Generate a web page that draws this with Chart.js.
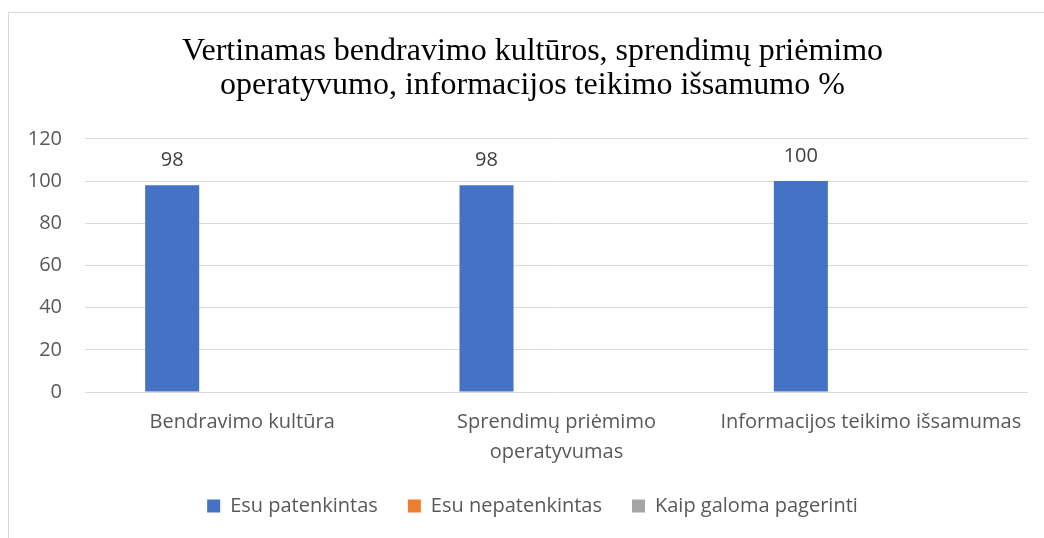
<!DOCTYPE html>
<html>
<head>
<meta charset="utf-8">
<script src="https://cdn.jsdelivr.net/npm/chart.js@4/dist/chart.umd.min.js"></script>
<style>
  html, body { margin: 0; padding: 0; background: #fff; overflow: hidden; }
  .frame {
    position: absolute; left: 8px; top: 12px;
    width: 1100px; height: 600px;
    border: 1px solid #d9d9d9;
  }
  .chart-container { position: absolute; left: 0; top: 0; width: 1047px; height: 525px; }
</style>
</head>
<body>
<div class="frame">
  <div class="chart-container"><canvas id="satisfactionChart"></canvas></div>
</div>
<script>
const categories = [
  'Bendravimo kultūra',
  ['Sprendimų priėmimo', 'operatyvumas'],
  'Informacijos teikimo išsamumas'
];
const seriesNames = ['Esu patenkintas', 'Esu nepatenkintas', 'Kaip galoma pagerinti'];
const satisfied = [98, 98, 100];
const notSatisfied = [null, null, null];
const improve = [null, null, null];
const yTicks = [0, 20, 40, 60, 80, 100, 120];

const titleLines = [
  'Vertinamas bendravimo kultūros, sprendimų priėmimo',
  'operatyvumo, informacijos teikimo išsamumo %'
];

const colors = ['#4472C4', '#ED7D31', '#A5A5A5'];
const textColor = '#595959';
const uiFont = '"Open Sans", Lato, sans-serif';

// draw value labels above bars of the first series
const valueLabels = {
  id: 'valueLabels',
  afterDatasetsDraw(chart) {
    const ctx = chart.ctx;
    const meta = chart.getDatasetMeta(0);
    ctx.save();
    ctx.font = '20px ' + uiFont;
    ctx.fillStyle = '#404040';
    ctx.textAlign = 'center';
    ctx.textBaseline = 'middle';
    meta.data.forEach((bar, i) => {
      const v = chart.data.datasets[0].data[i];
      if (v == null) return;
      ctx.fillText(String(v), bar.x, bar.y - 25);
    });
    ctx.restore();
  }
};

const ctx = document.getElementById('satisfactionChart').getContext('2d');

new Chart(ctx, {
  type: 'bar',
  data: {
    labels: categories,
    datasets: [
      { label: seriesNames[0], data: satisfied, backgroundColor: colors[0] },
      { label: seriesNames[1], data: notSatisfied, backgroundColor: colors[1] },
      { label: seriesNames[2], data: improve, backgroundColor: colors[2] }
    ]
  },
  options: {
    responsive: true,
    maintainAspectRatio: false,
    animation: false,
    categoryPercentage: 0.668,
    barPercentage: 0.772,
    layout: { padding: { left: 0, right: 0, top: 0, bottom: 12 } },
    scales: {
      y: {
        min: 0,
        max: 120,
        afterBuildTicks(axis) { axis.ticks = yTicks.map(v => ({ value: v })); },
        afterFit(axis) { axis.width = 76; },
        grid: { color: '#d9d9d9', lineWidth: 1, drawTicks: false },
        border: { display: false },
        ticks: { color: textColor, padding: 23, font: { family: uiFont, size: 20 } }
      },
      // empty right-hand spacer so the plot ends where the reference does
      spacer: {
        position: 'right',
        min: 0,
        max: 1,
        afterFit(axis) { axis.width = 28; },
        grid: { display: false, drawTicks: false },
        border: { display: false },
        ticks: { display: false }
      },
      x: {
        afterFit(axis) { axis.height = 74; },
        grid: { display: false, drawTicks: false },
        border: { display: false },
        ticks: {
          color: textColor, padding: 15, maxRotation: 0, autoSkip: false,
          font: { family: uiFont, size: 20, lineHeight: 1.5 }
        }
      }
    },
    plugins: {
      title: {
        display: true,
        text: titleLines,
        color: '#000',
        font: { family: '"Liberation Serif", "Times New Roman", serif', size: 32, weight: 'normal', lineHeight: 1.06 },
        padding: { top: 22, bottom: 36 }
      },
      legend: {
        position: 'bottom',
        labels: {
          color: textColor,
          boxWidth: 13,
          boxHeight: 13,
          padding: 30,
          font: { family: uiFont, size: 20 }
        }
      },
      tooltip: { enabled: false }
    }
  },
  plugins: [valueLabels]
});
</script>
</body>
</html>
